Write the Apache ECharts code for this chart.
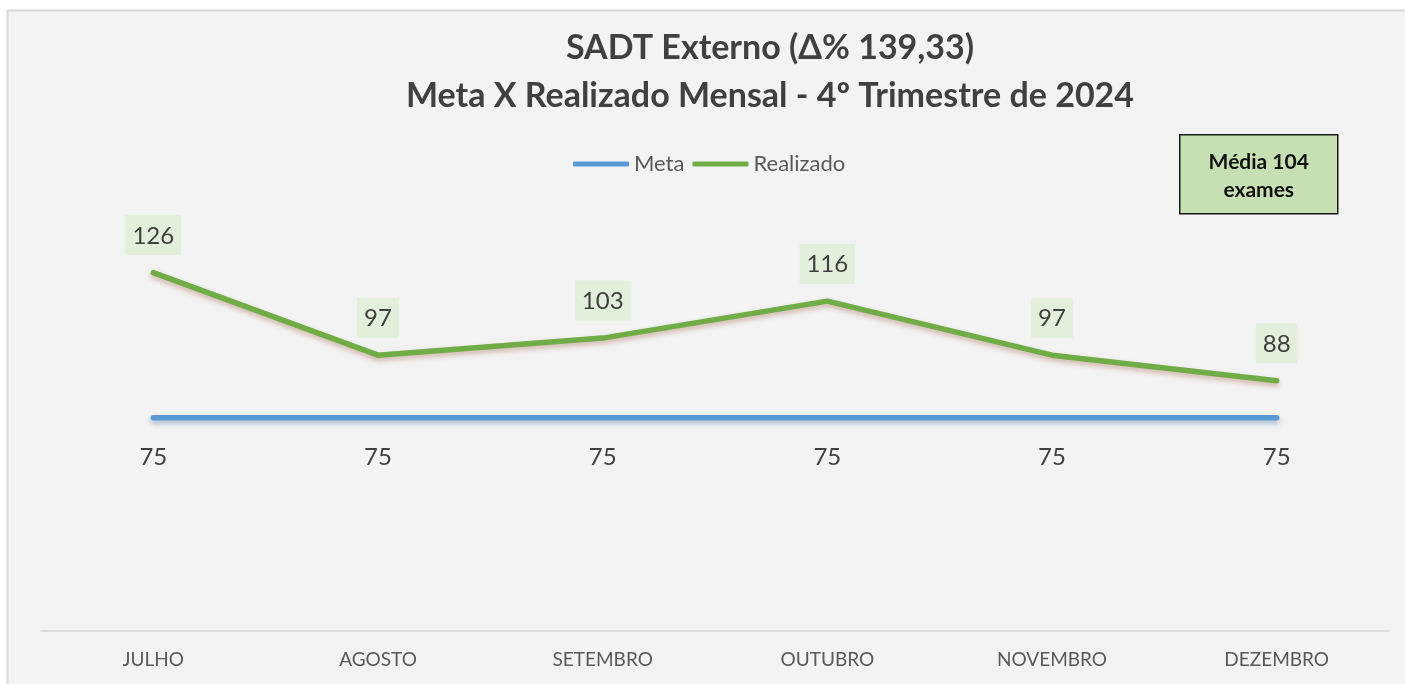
<!DOCTYPE html>
<html>
<head>
<meta charset="utf-8">
<script src="https://cdn.jsdelivr.net/npm/echarts@6/dist/echarts.min.js"></script>
<style>
  html, body { margin: 0; padding: 0; background: #ffffff; }
  #ch { width: 1405px; height: 684px; }
</style>
</head>
<body>
<div id="ch"></div>
<script>
var meses = ['JULHO', 'AGOSTO', 'SETEMBRO', 'OUTUBRO', 'NOVEMBRO', 'DEZEMBRO'];
var meta = [75, 75, 75, 75, 75, 75];
var realizado = [126, 97, 103, 116, 97, 88];
var titulo = ['SADT Externo (Δ% 139,33)', 'Meta X Realizado Mensal - 4º Trimestre de 2024'];
var mediaTexto = ['Média 104', 'exames'];

var fonte = 'Lato, "Open Sans", sans-serif';

var chart = echarts.init(document.getElementById('ch'));
var option = {
    backgroundColor: '#ffffff',
    textStyle: { fontFamily: fonte },
    title: {
        text: titulo.join('\n'),
        left: 770,
        top: 24,
        padding: 0,
        textAlign: 'center',
        textStyle: {
            fontFamily: fonte,
            fontSize: 34,
            fontWeight: 'bold',
            lineHeight: 48,
            color: '#404040'
        }
    },
    legend: {
        data: ['Meta', 'Realizado'],
        left: 573,
        top: 153,
        padding: 0,
        itemWidth: 56,
        itemHeight: 5,
        itemGap: 8,
        icon: 'roundRect',
        textStyle: { fontFamily: fonte, fontSize: 22, color: '#595959' }
    },
    graphic: [
        {
            // fundo da área do gráfico
            type: 'rect',
            z: -10,
            shape: { x: 7.5, y: 10.5, width: 1410, height: 690 },
            style: { fill: '#f3f3f3', stroke: '#d9d9d9', lineWidth: 2 }
        },
        {
            type: 'group',
            left: 1179,
            top: 134,
            children: [
                {
                    type: 'rect',
                    shape: { x: 0, y: 0, width: 158, height: 79 },
                    style: { fill: '#c6e0b4', stroke: '#1a1a1a', lineWidth: 1.5 }
                },
                {
                    type: 'text',
                    x: 79,
                    y: 41,
                    style: {
                        text: mediaTexto.join('\n'),
                        fontFamily: fonte,
                        fontSize: 21,
                        fontWeight: 'bold',
                        lineHeight: 28,
                        fill: '#111111',
                        align: 'center',
                        verticalAlign: 'middle'
                    }
                }
            ]
        }
    ],
    grid: {
        left: 41,
        right: 16,
        top: 176,
        bottom: 53
    },
    xAxis: {
        type: 'category',
        data: meses,
        boundaryGap: true,
        axisLine: { lineStyle: { color: '#d9d9d9', width: 1.5 } },
        axisTick: { show: false },
        axisLabel: { fontFamily: fonte, fontSize: 19, color: '#595959', margin: 19 }
    },
    yAxis: {
        type: 'value',
        min: 0,
        max: 160,
        show: false,
        splitLine: { show: false }
    },
    series: [
        {
            name: 'Meta',
            type: 'line',
            data: meta,
            color: '#5b9bd5',
            symbol: 'circle',
            symbolSize: 1,
            showSymbol: true,
            lineStyle: {
                width: 5.5,
                cap: 'round',
                shadowColor: 'rgba(40,80,140,0.35)',
                shadowBlur: 5,
                shadowOffsetY: 3
            },
            label: {
                show: true,
                position: 'bottom',
                distance: 27,
                fontFamily: fonte,
                fontSize: 24,
                color: '#404040'
            }
        },
        {
            name: 'Realizado',
            type: 'line',
            data: realizado,
            color: '#70ad47',
            symbol: 'circle',
            symbolSize: 1,
            showSymbol: true,
            lineStyle: {
                width: 5.5,
                cap: 'round',
                join: 'round',
                shadowColor: 'rgba(150,70,40,0.35)',
                shadowBlur: 5,
                shadowOffsetY: 3
            },
            label: {
                show: true,
                position: 'top',
                distance: 17,
                fontFamily: fonte,
                fontSize: 24,
                color: '#404040',
                backgroundColor: '#e2efda',
                padding: [9, 7, 7, 7]
            }
        }
    ]
};
chart.setOption(option);
</script>
</body>
</html>
